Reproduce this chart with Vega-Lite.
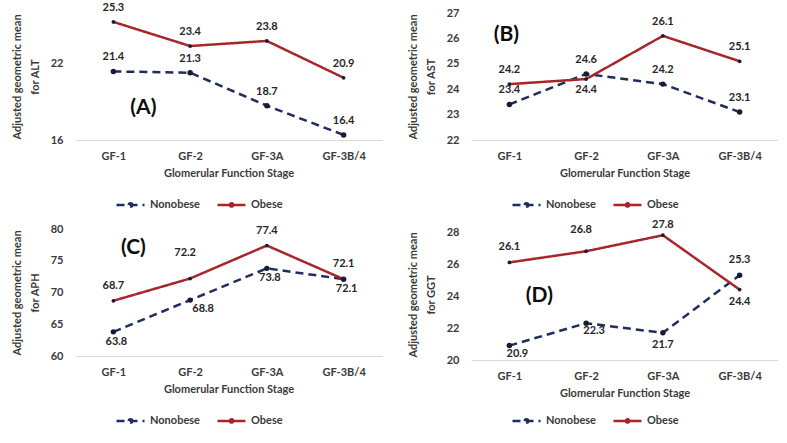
{
  "$schema": "https://vega.github.io/schema/vega-lite/v6.json",
  "padding": {"left": 11, "top": 1, "right": 0, "bottom": 0},
  "background": "white",
  "datasets": {
    "d": [
      {"panel": "A", "group": "Nonobese", "stage": "GF-1", "value": 21.4},
      {"panel": "A", "group": "Nonobese", "stage": "GF-2", "value": 21.3},
      {"panel": "A", "group": "Nonobese", "stage": "GF-3A", "value": 18.7},
      {"panel": "A", "group": "Nonobese", "stage": "GF-3B/4", "value": 16.4},
      {"panel": "A", "group": "Obese", "stage": "GF-1", "value": 25.3},
      {"panel": "A", "group": "Obese", "stage": "GF-2", "value": 23.4},
      {"panel": "A", "group": "Obese", "stage": "GF-3A", "value": 23.8},
      {"panel": "A", "group": "Obese", "stage": "GF-3B/4", "value": 20.9},
      {"panel": "B", "group": "Nonobese", "stage": "GF-1", "value": 23.4},
      {"panel": "B", "group": "Nonobese", "stage": "GF-2", "value": 24.6},
      {"panel": "B", "group": "Nonobese", "stage": "GF-3A", "value": 24.2},
      {"panel": "B", "group": "Nonobese", "stage": "GF-3B/4", "value": 23.1},
      {"panel": "B", "group": "Obese", "stage": "GF-1", "value": 24.2},
      {"panel": "B", "group": "Obese", "stage": "GF-2", "value": 24.4},
      {"panel": "B", "group": "Obese", "stage": "GF-3A", "value": 26.1},
      {"panel": "B", "group": "Obese", "stage": "GF-3B/4", "value": 25.1},
      {"panel": "C", "group": "Nonobese", "stage": "GF-1", "value": 63.8},
      {"panel": "C", "group": "Nonobese", "stage": "GF-2", "value": 68.8},
      {"panel": "C", "group": "Nonobese", "stage": "GF-3A", "value": 73.8},
      {"panel": "C", "group": "Nonobese", "stage": "GF-3B/4", "value": 72.1},
      {"panel": "C", "group": "Obese", "stage": "GF-1", "value": 68.7},
      {"panel": "C", "group": "Obese", "stage": "GF-2", "value": 72.2},
      {"panel": "C", "group": "Obese", "stage": "GF-3A", "value": 77.4},
      {"panel": "C", "group": "Obese", "stage": "GF-3B/4", "value": 72.1},
      {"panel": "D", "group": "Nonobese", "stage": "GF-1", "value": 20.9},
      {"panel": "D", "group": "Nonobese", "stage": "GF-2", "value": 22.3},
      {"panel": "D", "group": "Nonobese", "stage": "GF-3A", "value": 21.7},
      {"panel": "D", "group": "Nonobese", "stage": "GF-3B/4", "value": 25.3},
      {"panel": "D", "group": "Obese", "stage": "GF-1", "value": 26.1},
      {"panel": "D", "group": "Obese", "stage": "GF-2", "value": 26.8},
      {"panel": "D", "group": "Obese", "stage": "GF-3A", "value": 27.8},
      {"panel": "D", "group": "Obese", "stage": "GF-3B/4", "value": 24.4}
    ]
  },
  "config": {
    "font": "Lato",
    "view": {"stroke": null},
    "axis": {"labelFont": "Lato", "labelFontWeight": "bold", "labelFontSize": 11, "labelColor": "#3a3a3a", "titleFont": "Lato", "titleFontWeight": "bold", "titleFontSize": 11, "titleColor": "#3a3a3a", "ticks": false, "grid": false},
    "axisX": {"domainColor": "#d9d9d9", "domainWidth": 1, "labelAngle": 0, "labelPadding": 10, "titlePadding": 6},
    "axisY": {"domain": false, "labelPadding": 12, "titlePadding": 10, "titleLineHeight": 18},
    "legend": {"orient": "none", "legendX": 40, "legendY": 176, "direction": "horizontal", "title": null, "symbolType": "M-1,0H1M-0.12,0A0.12,0.12,0,1,1,0.12,0A0.12,0.12,0,1,1,-0.12,0", "symbolSize": 784, "symbolStrokeWidth": 2.5, "labelFont": "Lato", "labelFontSize": 11, "labelFontWeight": "bold", "labelColor": "#3a3a3a", "labelOffset": 4, "columnPadding": 12},
    "text": {"font": "Lato", "fontSize": 11, "fontWeight": "bold", "color": "#262626"}
  },
  "resolve": {"legend": {"color": "independent", "strokeDash": "independent"}, "scale": {"y": "independent", "x": "independent", "color": "independent", "strokeDash": "independent"}},
  "spacing": 7,
  "vconcat": [
    {
      "spacing": 89,
      "bounds": "flush",
      "resolve": {"legend": {"color": "independent", "strokeDash": "independent"}, "scale": {"y": "independent", "x": "independent", "color": "independent", "strokeDash": "independent"}},
      "hconcat": [
        {
          "width": 307, "height": 127,
          "data": {"name": "d"},
          "transform": [{"filter": "datum.panel == 'A'"}],
          "encoding": {
            "x": {"field": "stage", "type": "ordinal", "sort": ["GF-1", "GF-2", "GF-3A", "GF-3B/4"], "scale": {"type": "point", "padding": 0.5}, "axis": {"title": "Glomerular Function Stage"}},
            "y": {"field": "value", "type": "quantitative", "scale": {"domain": [16, 26], "nice": false, "zero": false}, "axis": {"values": [16, 22], "title": ["Adjusted geometric mean", "for ALT"]}}
          },
          "layer": [
            {"mark": {"type": "line", "strokeWidth": 2.5}, "encoding": {
              "color": {"field": "group", "type": "nominal", "title": null, "scale": {"domain": ["Nonobese", "Obese"], "range": ["#1F2D5F", "#A8262B"]}},
              "strokeDash": {"field": "group", "type": "nominal", "title": null, "scale": {"domain": ["Nonobese", "Obese"], "range": [[8, 5], [1, 0]]}}}},
            {"mark": {"type": "point", "filled": true, "fill": "#161c33", "opacity": 1}, "encoding": {"size": {"condition": {"test": "datum.group == 'Obese'", "value": 14}, "value": 30}}},
            {"mark": {"type": "text", "dy": -14}, "encoding": {"text": {"field": "value", "type": "quantitative", "format": ".1f"}}},
            {"transform": [{"filter": "datum.group == 'Obese' && datum.stage == 'GF-1'"}], "mark": {"type": "text", "fontSize": 21, "color": "#0d0d0d", "dx": 30, "text": "(A)"}, "encoding": {"x": {"datum": "GF-1"}, "y": {"datum": 18.5}}}
          ]
        },
        {
          "width": 307, "height": 127,
          "data": {"name": "d"},
          "transform": [{"filter": "datum.panel == 'B'"}],
          "encoding": {
            "x": {"field": "stage", "type": "ordinal", "sort": ["GF-1", "GF-2", "GF-3A", "GF-3B/4"], "scale": {"type": "point", "padding": 0.5}, "axis": {"title": "Glomerular Function Stage"}},
            "y": {"field": "value", "type": "quantitative", "scale": {"domain": [22, 27], "nice": false, "zero": false}, "axis": {"values": [22, 23, 24, 25, 26, 27], "title": ["Adjusted geometric mean", "for AST"]}}
          },
          "layer": [
            {"mark": {"type": "line", "strokeWidth": 2.5}, "encoding": {
              "color": {"field": "group", "type": "nominal", "title": null, "scale": {"domain": ["Nonobese", "Obese"], "range": ["#1F2D5F", "#A8262B"]}},
              "strokeDash": {"field": "group", "type": "nominal", "title": null, "scale": {"domain": ["Nonobese", "Obese"], "range": [[8, 5], [1, 0]]}}}},
            {"mark": {"type": "point", "filled": true, "fill": "#161c33", "opacity": 1}, "encoding": {"size": {"condition": {"test": "datum.group == 'Obese'", "value": 14}, "value": 30}}},
            {"transform": [{"filter": "!(datum.group == 'Obese' && datum.stage == 'GF-2')"}], "mark": {"type": "text", "dy": -14}, "encoding": {"text": {"field": "value", "type": "quantitative", "format": ".1f"}}},
            {"transform": [{"filter": "datum.group == 'Obese' && datum.stage == 'GF-2'"}], "mark": {"type": "text", "dy": 11}, "encoding": {"text": {"field": "value", "type": "quantitative", "format": ".1f"}}},
            {"transform": [{"filter": "datum.group == 'Obese' && datum.stage == 'GF-1'"}], "mark": {"type": "text", "fontSize": 21, "color": "#0d0d0d", "dx": -3, "text": "(B)"}, "encoding": {"x": {"datum": "GF-1"}, "y": {"datum": 26.15}}}
          ]
        }
      ]
    },
    {
      "spacing": 89,
      "bounds": "flush",
      "resolve": {"legend": {"color": "independent", "strokeDash": "independent"}, "scale": {"y": "independent", "x": "independent", "color": "independent", "strokeDash": "independent"}},
      "hconcat": [
        {
          "width": 307, "height": 127,
          "data": {"name": "d"},
          "transform": [{"filter": "datum.panel == 'C'"}],
          "encoding": {
            "x": {"field": "stage", "type": "ordinal", "sort": ["GF-1", "GF-2", "GF-3A", "GF-3B/4"], "scale": {"type": "point", "padding": 0.5}, "axis": {"title": "Glomerular Function Stage"}},
            "y": {"field": "value", "type": "quantitative", "scale": {"domain": [60, 80], "nice": false, "zero": false}, "axis": {"values": [60, 65, 70, 75, 80], "title": ["Adjusted geometric mean", "for APH"]}}
          },
          "layer": [
            {"mark": {"type": "line", "strokeWidth": 2.5}, "encoding": {
              "color": {"field": "group", "type": "nominal", "title": null, "scale": {"domain": ["Nonobese", "Obese"], "range": ["#1F2D5F", "#A8262B"]}},
              "strokeDash": {"field": "group", "type": "nominal", "title": null, "scale": {"domain": ["Nonobese", "Obese"], "range": [[8, 5], [1, 0]]}}}},
            {"mark": {"type": "point", "filled": true, "fill": "#161c33", "opacity": 1}, "encoding": {"size": {"condition": {"test": "datum.group == 'Obese'", "value": 14}, "value": 30}}},
            {"transform": [{"filter": "datum.group == 'Obese' && datum.stage != 'GF-2'"}], "mark": {"type": "text", "dy": -15}, "encoding": {"text": {"field": "value", "type": "quantitative", "format": ".1f"}}},
            {"transform": [{"filter": "datum.group == 'Obese' && datum.stage == 'GF-2'"}], "mark": {"type": "text", "dy": -26, "dx": -5}, "encoding": {"text": {"field": "value", "type": "quantitative", "format": ".1f"}}},
            {"transform": [{"filter": "datum.group == 'Nonobese' && datum.stage != 'GF-2'"}], "mark": {"type": "text", "dy": 10, "dx": 3}, "encoding": {"text": {"field": "value", "type": "quantitative", "format": ".1f"}}},
            {"transform": [{"filter": "datum.group == 'Nonobese' && datum.stage == 'GF-2'"}], "mark": {"type": "text", "dy": 9, "dx": 13}, "encoding": {"text": {"field": "value", "type": "quantitative", "format": ".1f"}}},
            {"transform": [{"filter": "datum.group == 'Obese' && datum.stage == 'GF-1'"}], "mark": {"type": "text", "fontSize": 21, "color": "#0d0d0d", "dx": 20, "text": "(C)"}, "encoding": {"x": {"datum": "GF-1"}, "y": {"datum": 77}}}
          ]
        },
        {
          "width": 307, "height": 131,
          "data": {"name": "d"},
          "transform": [{"filter": "datum.panel == 'D'"}],
          "encoding": {
            "x": {"field": "stage", "type": "ordinal", "sort": ["GF-1", "GF-2", "GF-3A", "GF-3B/4"], "scale": {"type": "point", "padding": 0.5}, "axis": {"title": "Glomerular Function Stage"}},
            "y": {"field": "value", "type": "quantitative", "scale": {"domain": [20, 28.19], "nice": false, "zero": false}, "axis": {"values": [20, 22, 24, 26, 28], "title": ["Adjusted geometric mean", "for GGT"]}}
          },
          "layer": [
            {"mark": {"type": "line", "strokeWidth": 2.5}, "encoding": {
              "color": {"field": "group", "type": "nominal", "title": null, "scale": {"domain": ["Nonobese", "Obese"], "range": ["#1F2D5F", "#A8262B"]}},
              "strokeDash": {"field": "group", "type": "nominal", "title": null, "scale": {"domain": ["Nonobese", "Obese"], "range": [[8, 5], [1, 0]]}}}},
            {"mark": {"type": "point", "filled": true, "fill": "#161c33", "opacity": 1}, "encoding": {"size": {"condition": {"test": "datum.group == 'Obese'", "value": 14}, "value": 30}}},
            {"transform": [{"filter": "(datum.group == 'Obese' && datum.stage == 'GF-1') || (datum.group == 'Nonobese' && datum.stage == 'GF-3B/4')"}], "mark": {"type": "text", "dy": -15}, "encoding": {"text": {"field": "value", "type": "quantitative", "format": ".1f"}}},
            {"transform": [{"filter": "datum.group == 'Obese' && datum.stage == 'GF-3A'"}], "mark": {"type": "text", "dy": -10}, "encoding": {"text": {"field": "value", "type": "quantitative", "format": ".1f"}}},
            {"transform": [{"filter": "datum.group == 'Obese' && datum.stage == 'GF-2'"}], "mark": {"type": "text", "dy": -21, "dx": -5}, "encoding": {"text": {"field": "value", "type": "quantitative", "format": ".1f"}}},
            {"transform": [{"filter": "(datum.group == 'Obese' && datum.stage == 'GF-3B/4') || (datum.group == 'Nonobese' && datum.stage == 'GF-3A')"}], "mark": {"type": "text", "dy": 12}, "encoding": {"text": {"field": "value", "type": "quantitative", "format": ".1f"}}},
            {"transform": [{"filter": "datum.group == 'Nonobese' && (datum.stage == 'GF-1' || datum.stage == 'GF-2')"}], "mark": {"type": "text", "dy": 8, "dx": 8}, "encoding": {"text": {"field": "value", "type": "quantitative", "format": ".1f"}}},
            {"transform": [{"filter": "datum.group == 'Obese' && datum.stage == 'GF-1'"}], "mark": {"type": "text", "fontSize": 21, "color": "#0d0d0d", "dx": 30, "text": "(D)"}, "encoding": {"x": {"datum": "GF-1"}, "y": {"datum": 24}}}
          ]
        }
      ]
    }
  ]
}
